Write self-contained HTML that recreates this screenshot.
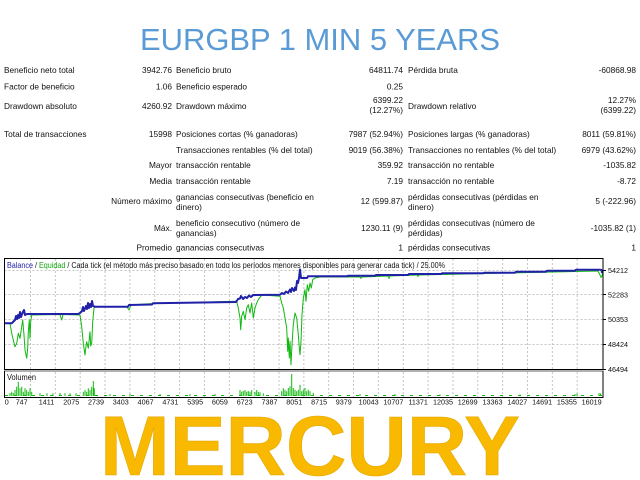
<!DOCTYPE html>
<html>
<head>
<meta charset="utf-8">
<style>
  html, body { margin:0; padding:0; background:#fff; }
  body { width:640px; height:480px; overflow:hidden; }
  svg { display:block; }
  .t { font-family:"Liberation Sans", "DejaVu Sans", sans-serif; font-size:8.3px; fill:#111; }
  .c { font-family:"Liberation Sans", "DejaVu Sans", sans-serif; font-size:7.2px; fill:#111; }
</style>
</head>
<body>
<svg width="640" height="480" viewBox="0 0 640 480" xmlns="http://www.w3.org/2000/svg">
  <rect x="0" y="0" width="640" height="480" fill="#fff"/>

  <!-- Title -->
  <text x="140" y="50" textLength="360" lengthAdjust="spacingAndGlyphs" font-family="Liberation Sans, DejaVu Sans, sans-serif" font-size="30.3" fill="#5B9BD5">EURGBP 1 MIN 5 YEARS</text>

  <!-- Stats table -->
  <g class="t">
    <!-- Row 1 -->
    <text x="4" y="73">Beneficio neto total</text>
    <text x="172" y="73" text-anchor="end">3942.76</text>
    <text x="176" y="73">Beneficio bruto</text>
    <text x="403" y="73" text-anchor="end">64811.74</text>
    <text x="408" y="73">Pérdida bruta</text>
    <text x="636" y="73" text-anchor="end">-60868.98</text>
    <!-- Row 2 -->
    <text x="4" y="89.7">Factor de beneficio</text>
    <text x="172" y="89.7" text-anchor="end">1.06</text>
    <text x="176" y="89.7">Beneficio esperado</text>
    <text x="403" y="89.7" text-anchor="end">0.25</text>
    <!-- Row 3 -->
    <text x="4" y="109">Drawdown absoluto</text>
    <text x="172" y="109" text-anchor="end">4260.92</text>
    <text x="176" y="109">Drawdown máximo</text>
    <text x="403" y="103" text-anchor="end">6399.22</text>
    <text x="403" y="113" text-anchor="end">(12.27%)</text>
    <text x="408" y="109">Drawdown relativo</text>
    <text x="636" y="103" text-anchor="end">12.27%</text>
    <text x="636" y="113" text-anchor="end">(6399.22)</text>
    <!-- Row 4 -->
    <text x="4" y="137">Total de transacciones</text>
    <text x="172" y="137" text-anchor="end">15998</text>
    <text x="176" y="137">Posiciones cortas (% ganadoras)</text>
    <text x="403" y="137" text-anchor="end">7987 (52.94%)</text>
    <text x="408" y="137">Posiciones largas (% ganadoras)</text>
    <text x="636" y="137" text-anchor="end">8011 (59.81%)</text>
    <!-- Row 5 -->
    <text x="176" y="153">Transacciones rentables (% del total)</text>
    <text x="403" y="153" text-anchor="end">9019 (56.38%)</text>
    <text x="408" y="153">Transacciones no rentables (% del total)</text>
    <text x="636" y="153" text-anchor="end">6979 (43.62%)</text>
    <!-- Row 6 -->
    <text x="172" y="168" text-anchor="end">Mayor</text>
    <text x="176" y="168">transacción rentable</text>
    <text x="403" y="168" text-anchor="end">359.92</text>
    <text x="408" y="168">transacción no rentable</text>
    <text x="636" y="168" text-anchor="end">-1035.82</text>
    <!-- Row 7 -->
    <text x="172" y="184" text-anchor="end">Media</text>
    <text x="176" y="184">transacción rentable</text>
    <text x="403" y="184" text-anchor="end">7.19</text>
    <text x="408" y="184">transacción no rentable</text>
    <text x="636" y="184" text-anchor="end">-8.72</text>
    <!-- Row 8 -->
    <text x="172" y="204" text-anchor="end">Número máximo</text>
    <text x="176" y="200">ganancias consecutivas (beneficio en</text>
    <text x="176" y="210">dinero)</text>
    <text x="403" y="204" text-anchor="end">12 (599.87)</text>
    <text x="408" y="200">pérdidas consecutivas (pérdidas en</text>
    <text x="408" y="210">dinero)</text>
    <text x="636" y="204" text-anchor="end">5 (-222.96)</text>
    <!-- Row 9 -->
    <text x="172" y="231" text-anchor="end">Máx.</text>
    <text x="176" y="226">beneficio consecutivo (número de</text>
    <text x="176" y="236">ganancias)</text>
    <text x="403" y="231" text-anchor="end">1230.11 (9)</text>
    <text x="408" y="226">pérdidas consecutivas (número de</text>
    <text x="408" y="236">pérdidas)</text>
    <text x="636" y="231" text-anchor="end">-1035.82 (1)</text>
    <!-- Row 10 -->
    <text x="172" y="250.7" text-anchor="end">Promedio</text>
    <text x="176" y="250.7">ganancias consecutivas</text>
    <text x="403" y="250.7" text-anchor="end">1</text>
    <text x="408" y="250.7">pérdidas consecutivas</text>
    <text x="636" y="250.7" text-anchor="end">1</text>
  </g>

  <!-- Chart grid -->
  <g stroke="#c4c4c4" stroke-width="1" stroke-dasharray="2 2" fill="none">
    <line x1="4.5" y1="270.5" x2="603" y2="270.5"/>
    <line x1="4.5" y1="294.5" x2="603" y2="294.5"/>
    <line x1="4.5" y1="319.5" x2="603" y2="319.5"/>
    <line x1="4.5" y1="344.5" x2="603" y2="344.5"/>
    <path d="M30.5 259V369 M55.35 259V369 M80.2 259V369 M105.05 259V369 M129.9 259V369 M154.75 259V369 M179.6 259V369 M204.45 259V369 M229.3 259V369 M254.15 259V369 M279 259V369 M303.85 259V369 M328.7 259V369 M353.55 259V369 M378.4 259V369 M403.25 259V369 M428.1 259V369 M452.95 259V369 M477.8 259V369 M502.65 259V369 M527.5 259V369 M552.35 259V369 M577.2 259V369"/>
    <path d="M30.5 372V397 M55.35 372V397 M80.2 372V397 M105.05 372V397 M129.9 372V397 M154.75 372V397 M179.6 372V397 M204.45 372V397 M229.3 372V397 M254.15 372V397 M279 372V397 M303.85 372V397 M328.7 372V397 M353.55 372V397 M378.4 372V397 M403.25 372V397 M428.1 372V397 M452.95 372V397 M477.8 372V397 M502.65 372V397 M527.5 372V397 M552.35 372V397 M577.2 372V397"/>
  </g>

  <!-- Header text in chart -->
  <text x="7" y="268" textLength="438" lengthAdjust="spacingAndGlyphs" font-family="Liberation Sans, DejaVu Sans, sans-serif" font-size="8px" fill="#111"><tspan fill="#2323a8">Balance</tspan> / <tspan fill="#12a812">Equidad</tspan> / Cada tick (el método más preciso basado en todo los períodos menores disponibles para generar cada tick)  / 25.00%</text>

  <!-- Equity (green) -->
  <g fill="none" stroke="#10b810" stroke-width="1" stroke-linejoin="round">
    <polyline points="4,323.3 10,323.3 11.7,333.3 13.3,340 15,346.7 16.7,343.3 18.3,333.3 20,338.3 21.7,326.7 22.7,320 24,335 25,350 26.7,358.3 27.7,348.3 28.3,331.7 29.3,320 30,338.3 30.7,321.7 31.7,315 60,314.5 61.7,320 63,314.5 80,315 81.7,326.7 83.3,343.3 85,355 86,346 86.7,341.7 88.3,348.3 90,331.7 90.7,346 91.7,343.3 92.7,321.7 94,308.3 95,307 127,307 129,310 131,305 153,303.5 236.7,301.3 238.3,308 240,318 240.7,329.7 241.7,316.3 243.3,311.3 245,319.7 246.7,308 248.3,304.7 250,313 251.7,303 253.3,318 255,308 256.7,303 258.3,299.7 260,297.3 262,295 280,296.3 281.7,303 283.3,308 285,318 286.7,328 287.7,351.3 288.3,338 289.3,358 290,341.3 291,364.7 292,344.7 293.3,324.7 295,313 296.7,318 298.3,334.7 299.3,348 300,354.7 301,341.3 302,314.7 303.3,298 305,289.7 306,301.3 307.3,284.7 308.7,291.3 310,283 311.3,288 312.7,279.7 315,278 320,277 360,277 361,278.5 362,277 388,276 389,278.5 390,276 417,275 418,276.5 419,275 598,271 599,273 600,275 601,277.5 602,276 602.5,273"/>
  </g>

  <!-- Balance (blue) -->
  <polyline fill="none" stroke="#2020a8" stroke-width="2" stroke-linejoin="round" points="4,323.3 11.7,323.3 13,322 15,320 16,316 17,319 18,315 19,318 20,312 21,317 22,314 24,310 25,315 27,314 30,314 78,314 80,313 82,311 83,307 84,311 86,306 87,309 88,303 89,308 90,304 91,307 92,301 93,306 95,306.7 128,306.7 129,305 152,304.5 153,303.3 236,302 238,299 240,298.5 241,296 243,299 245,297 247,298 249,295.5 251,297 253,295 280,294.7 282,293 284,294 286,291.5 288,293 290,289.5 291,292 292,288 294,291 295,287.5 296,290 297,281 298,283 299,278 300,269.5 301,278 302,278 307,278 308,276.3 347,276.3 348,275.7 375,275.7 376,275 408,275 409,274 441,274 442,273.3 483,273.3 484,272.7 515,272.7 516,271.7 546,271.7 547,270.7 575,270.7 576,269.7 600,269.7 601.5,270 602,273"/>

  <!-- Volume bars -->
  <g fill="none" stroke="#10b810" stroke-width="1">
    <line x1="5" y1="395.5" x2="602" y2="395.5" stroke-dasharray="3 6"/>
    <path d="M10 396V393 M11.7 396V391.7 M13.3 396V393 M15 396V390 M16.7 396V386.7 M18.3 396V381.7 M20 396V388.3 M21.7 396V386.7 M23.3 396V391.7 M25 396V388.3 M26.7 396V390 M28.3 396V391.7 M30 396V388.3 M31.7 396V391.7
             M40 396V393.3 M47 396V393.3 M53 396V393.3 M60 396V393 M65 396V393.3 M70 396V393.3 M76 396V393.3
             M83.3 396V391.7 M85 396V390 M86.7 396V391.7 M88.3 396V388.3 M90 396V390 M91.7 396V386.7 M93.3 396V381 M94.3 396V388.3
             M110 396V394 M130 396V394 M160 396V394 M190 396V394 M215 396V394
             M240 396V390 M241.7 396V391.7 M243.3 396V391 M245 396V390 M246.7 396V391.7 M248.3 396V391 M250 396V391.7 M251.7 396V390 M255 396V391.7 M256.7 396V390 M258.3 396V391.7 M260 396V392.3 M263.3 396V393.3
             M281.7 396V391.3 M283.3 396V388.3 M285 396V389.7 M286.7 396V391.3 M288.3 396V388 M290 396V386.3 M291.7 396V374 M293.3 396V388 M295 396V389.7 M296.7 396V391.3 M298.3 396V389.7 M300 396V384.7 M301.7 396V391.3 M303.3 396V389.7 M305 396V388 M306.7 396V391.3 M308.3 396V389.7 M310 396V391.3 M313.3 396V393
             M360 396V394 M395 396V394 M440 396V394.5 M520 396V394.5 M575 396V394 M577 396V393.5 M599 396V393 M600.5 396V393.5"/>
  </g>

  <!-- Chart borders -->
  <rect x="4.5" y="258.5" width="598.5" height="111" fill="none" stroke="#000" stroke-width="1"/>
  <line x1="4" y1="371" x2="603.5" y2="371" stroke="#808080" stroke-width="1.2"/>
  <line x1="4.5" y1="371" x2="4.5" y2="397.5" stroke="#000" stroke-width="1"/>
  <line x1="603" y1="371" x2="603" y2="397.5" stroke="#000" stroke-width="1"/>
  <line x1="4" y1="397.5" x2="603.5" y2="397.5" stroke="#000" stroke-width="1"/>

  <text x="7" y="380" textLength="29" lengthAdjust="spacingAndGlyphs" font-family="Liberation Sans, DejaVu Sans, sans-serif" font-size="8px" fill="#111">Volumen</text>

  <!-- Y-axis ticks + labels -->
  <g stroke="#000" stroke-width="1">
    <line x1="603" y1="270.5" x2="606" y2="270.5"/>
    <line x1="603" y1="294.5" x2="606" y2="294.5"/>
    <line x1="603" y1="319.5" x2="606" y2="319.5"/>
    <line x1="603" y1="344.5" x2="606" y2="344.5"/>
    <line x1="603" y1="369.5" x2="606" y2="369.5"/>
  </g>
  <g class="c">
    <text x="608" y="272.8">54212</text>
    <text x="608" y="297.5">52283</text>
    <text x="608" y="322.1">50353</text>
    <text x="608" y="346.8">48424</text>
    <text x="608" y="371.8">46494</text>
  </g>

  <!-- X-axis labels -->
  <g class="c" text-anchor="middle">
    <text x="6.7" y="404.5">0</text>
    <text x="21.7" y="404.5">747</text>
    <text x="46.5" y="404.5">1411</text>
    <text x="71.3" y="404.5">2075</text>
    <text x="96.0" y="404.5">2739</text>
    <text x="120.8" y="404.5">3403</text>
    <text x="145.6" y="404.5">4067</text>
    <text x="170.4" y="404.5">4731</text>
    <text x="195.2" y="404.5">5395</text>
    <text x="219.9" y="404.5">6059</text>
    <text x="244.7" y="404.5">6723</text>
    <text x="269.5" y="404.5">7387</text>
    <text x="294.3" y="404.5">8051</text>
    <text x="319.1" y="404.5">8715</text>
    <text x="343.8" y="404.5">9379</text>
    <text x="368.6" y="404.5">10043</text>
    <text x="393.4" y="404.5">10707</text>
    <text x="418.2" y="404.5">11371</text>
    <text x="443.0" y="404.5">12035</text>
    <text x="467.7" y="404.5">12699</text>
    <text x="492.5" y="404.5">13363</text>
    <text x="517.3" y="404.5">14027</text>
    <text x="542.1" y="404.5">14691</text>
    <text x="566.9" y="404.5">15355</text>
    <text x="591.6" y="404.5">16019</text>
  </g>

  <!-- MERCURY -->
  <text x="100" y="475" textLength="420" lengthAdjust="spacingAndGlyphs" font-family="Liberation Sans, DejaVu Sans, sans-serif" font-weight="bold" font-size="84" fill="#F8B900" stroke="#E3A800" stroke-width="0.6">MERCURY</text>
</svg>
</body>
</html>
